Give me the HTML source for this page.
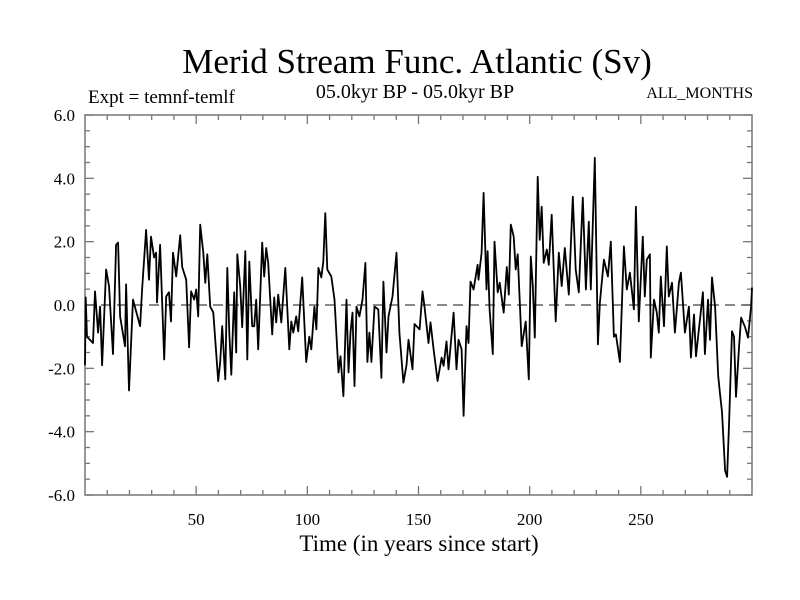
<!DOCTYPE html>
<html><head><meta charset="utf-8"><style>
body{margin:0;background:#fff}
svg{display:block;font-family:"Liberation Serif",serif}
</style></head><body>
<svg id="chart" width="800" height="600">
<rect width="800" height="600" fill="#fff"/>
<text x="417" y="73" font-size="35" text-anchor="middle">Merid Stream Func. Atlantic (Sv)</text>
<text x="88" y="103" font-size="19">Expt = temnf-temlf</text>
<text x="415" y="98" font-size="20" text-anchor="middle">05.0kyr BP - 05.0kyr BP</text>
<text x="753" y="98" font-size="16" text-anchor="end">ALL_MONTHS</text>
<text x="419" y="551" font-size="23" text-anchor="middle">Time (in years since start)</text>
<g id="axes"></g>
<g id="series"></g>
</svg>
<script>
const years1=[0,0.3,0.9,3.6,4.5,5.9,6.8,7.7,9.5,10.8,12.6,14.0,14.9,15.8,18.0,18.5,19.8,21.6,24.8,25.7,27.5,28.8,29.7,31.1,32.0,32.4,33.8,35.6,36.5,37.8,38.7,39.6,41.0,42.8,43.7,45.5,46.8,47.7,49.1,50.0,50.9,51.8,53.2,54.1,55.0,56.3,57.7,59.9,60.8,61.7,63.1,64.0,64.9,65.8,67.1,68.0,68.5,69.8,70.7,72.1,73.0,73.9,75.2];
const values1=[-1.9,0.24,-1.0,-1.2,0.43,-0.87,-0.05,-1.9,1.12,0.6,-1.55,1.9,1.97,-0.36,-1.3,0.65,-2.7,0.17,-0.67,0.49,2.37,0.8,2.16,1.5,1.65,0.08,1.9,-1.72,0.27,0.4,-0.52,1.65,0.9,2.2,1.2,0.8,-1.34,0.43,0.17,0.49,-0.36,2.54,1.65,0.7,1.6,-0.05,-0.24,-2.4,-1.8,-0.67,-2.35,1.17,-0.87,-2.2,0.4,-1.5,1.6,0.6,-0.7,1.7,-1.72,1.37,-0.67];
const years2=[76.1,77.0,77.9,79.7,80.6,81.5,82.4,84.2,85.1,86.0,86.9,88.3,90.1,91.9,92.8,93.7,95.0,95.9,97.7,99.5,100.9,101.8,103.2,104.1,105.0,106.3,107.2,108.1,109.0,110.8,112.2,114.0,114.9,116.2,117.6,118.5,119.4,120.3,121.2,122.1,123.4,124.8,126.1,127.0,127.9,128.8,130.2,131.9,133.3,134.2,135.6,136.5,138.3,140.1,141.4,143.2,144.6,145.5,147.3,148.2,150.5];
const values2=[-0.67,0.17,-1.4,1.97,0.9,1.8,1.33,-0.93,0.24,-0.55,0.33,-0.55,1.17,-1.4,-0.52,-0.87,-0.36,-0.83,0.87,-1.8,-1.0,-1.4,-0.05,-0.77,1.17,0.87,1.37,2.9,1.12,0.9,0.17,-2.13,-1.62,-2.88,0.17,-2.13,-0.87,-0.24,-2.56,-0.05,-0.36,0.17,1.33,-1.8,-0.87,-1.8,-0.05,-0.14,-2.3,0.74,-1.5,-0.36,0.27,1.65,-0.87,-2.45,-1.9,-1.1,-2.03,-0.6,-0.77];
const years3=[151.8,152.7,154.5,155.4,156.8,158.6,160.4,161.3,162.6,163.5,165.8,167.1,168.0,169.4,170.3,171.6,172.5,173.4,174.8,176.6,177.0,178.4,179.3,180.6,181.1,182.0,183.4,184.2,185.6,186.5,188.3,189.7,190.6,191.5,192.8,193.7,194.6,196.4,198.2,199.6,200.5,201.4,202.3,203.6,204.5,205.4,206.3,207.7,208.6,209.9,211.7,213.1,214.4,215.8,217.6,219.4,220.7,222.1,223.9,225.3];
const values3=[0.43,-0.05,-1.2,-0.55,-1.4,-2.4,-1.66,-1.92,-1.15,-2.03,-0.24,-2.03,-1.1,-1.4,-3.5,-0.67,-1.2,0.74,0.49,1.27,0.8,1.65,3.54,0.49,1.7,-0.14,-1.55,2.0,0.4,0.7,-0.24,1.2,0.33,2.54,2.16,1.12,1.6,-1.3,-0.52,-2.35,1.53,0.6,-1.03,4.05,2.06,3.1,1.33,1.75,1.27,2.85,-0.52,1.65,0.6,1.8,0.33,3.42,1.12,0.4,3.39,0.49];
const years4=[226.6,227.5,229.3,230.7,231.6,233.4,235.2,236.5,237.9,238.8,240.6,242.4,243.7,245.1,246.9,247.8,249.1,250.9,251.8,252.7,254.1,254.5,255.9,257.2,258.1,259.0,260.4,261.7,262.6,264.0,265.3,267.1,268.0,269.8,271.6,272.5,273.9,274.8,277.9,278.8,280.2,281.1,282.0,283.4,284.8,285.6,286.5,287.9,288.8,289.7,291.0,291.9,292.8,294.2,295.1,296.9,298.2,299.6,300];
const values4=[2.63,0.49,4.65,-1.24,0.08,1.43,0.9,2.0,-1.0,-0.93,-1.8,1.85,0.49,1.02,-0.14,3.1,-0.52,2.16,0.27,1.43,1.6,-1.66,0.17,-0.24,-0.87,0.9,-0.67,1.85,0.27,0.7,-0.87,0.7,1.02,-0.87,-0.05,-1.66,-0.3,-1.62,0.4,-1.55,0.17,-1.1,0.87,-0.05,-2.24,-2.8,-3.38,-5.23,-5.43,-3.7,-0.83,-1.0,-2.9,-1.3,-0.4,-0.7,-1.03,-0.05,0.55];
const xTickLabels=[50,100,150,200,250];
const yTickLabels=[-6,-4,-2,0,2,4,6];

const L=85,R=752,T=115,B=495;
const xs=v=>L+(v/300)*(R-L);
const ys=v=>B-((v+6)/12)*(B-T);
const NS="http://www.w3.org/2000/svg";
function mk(tag,attrs,parent){const e=document.createElementNS(NS,tag);for(const k in attrs)e.setAttribute(k,attrs[k]);parent.appendChild(e);return e;}
const ax=document.getElementById('axes');
const frame=mk('rect',{x:L,y:T,width:R-L,height:B-T,fill:'none',stroke:'#777','stroke-width':1.5},ax);


for(let v=-6;v<=6.001;v+=0.5){
  const y=ys(v);const major=Math.abs(v%2)<1e-6;const len=major?9:5;
  const t1=mk('line',{x1:L,x2:L+len,y1:y,y2:y,stroke:'#777','stroke-width':1.3},ax);
  
  
  const t2=mk('line',{x1:R,x2:R-len,y1:y,y2:y,stroke:'#777','stroke-width':1.3},ax);
  
  
}
for(let v=10;v<300;v+=10){
  const x=xs(v);const len=(v%50===0)?9:5;
  const t1=mk('line',{x1:x,x2:x,y1:B,y2:B-len,stroke:'#777','stroke-width':1.3},ax);
  
  
  const t2=mk('line',{x1:x,x2:x,y1:T,y2:T+len,stroke:'#777','stroke-width':1.3},ax);
  
  
}
yTickLabels.forEach(v=>{
  const t=mk('text',{x:75,y:ys(v)+6,'font-size':17,'text-anchor':'end'},ax);
  t.textContent=v.toFixed(1);
  
  
});
xTickLabels.forEach(v=>{
  const t=mk('text',{x:xs(v),y:525,'font-size':17,'text-anchor':'middle'},ax);
  t.textContent=v;
  
  
});
const zl=mk('line',{x1:L,x2:R,y1:ys(0),y2:ys(0),stroke:'#444','stroke-width':1.2,'stroke-dasharray':'10,6'},ax);


const sg=document.getElementById('series');
const yrs=[].concat(years1,years2,years3,years4);
const vals=[].concat(values1,values2,values3,values4);
const n=Math.min(yrs.length,vals.length);
let d='';
for(let i=0;i<n;i++){d+=(i?'L':'M')+xs(yrs[i]).toFixed(1)+' '+ys(vals[i]).toFixed(1);}
const p=mk('path',{d:d,fill:'none',stroke:'#000','stroke-width':1.8,'stroke-linejoin':'round'},sg);


</script>
</body></html>
